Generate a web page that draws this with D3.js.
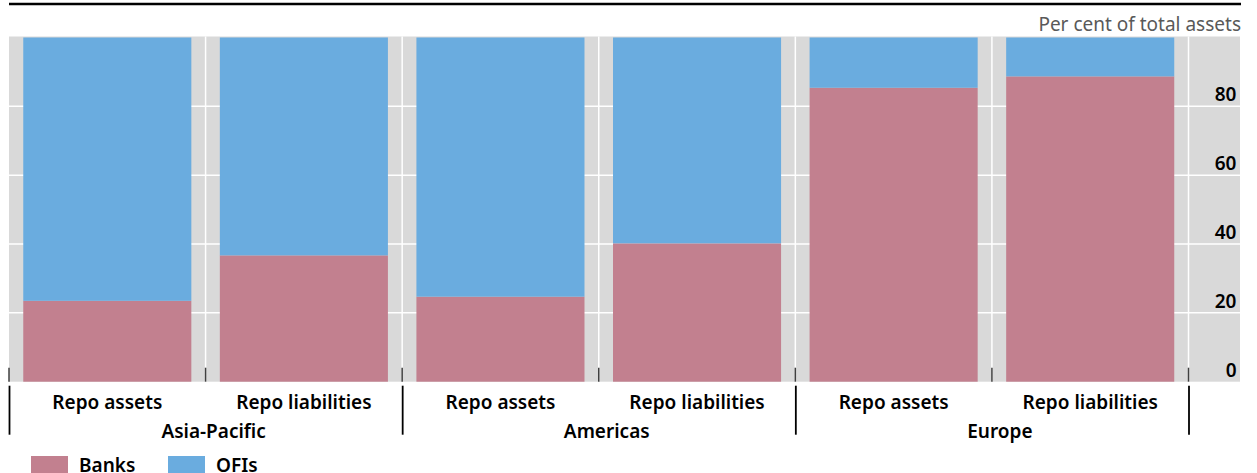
<!DOCTYPE html>
<html>
<head>
<meta charset="utf-8">
<script src="https://cdn.jsdelivr.net/npm/d3@7"></script>
<style>
  html, body { margin: 0; padding: 0; background: #fff; }
  svg { display: block; font-family: 'Noto Sans', sans-serif; }
</style>
</head>
<body>
<div id="chart"></div>
<script>
// data (per cent of total assets)
var regions = ['Asia-Pacific', 'Americas', 'Europe'];
var sides = ['Repo assets', 'Repo liabilities'];
var banks = [23.5, 36.7, 24.7, 40.2, 85.4, 88.7];
var ofis = [76.5, 63.3, 75.3, 59.8, 14.6, 11.3];
var yTicks = [0, 20, 40, 60, 80];
var seriesNames = ['Banks', 'OFIs'];
var colours = ['#c2808f', '#6aacdf'];

var width = 1257, height = 473;
var plotLeft = 9, plotRight = 1240, plotTop = 37.5, plotBottom = 381.7;
var barsRight = 1188.5;
var labelFont = { size: '19px', weight: 600 };

var rows = [];
regions.forEach(function(r, i) {
    sides.forEach(function(s, j) {
        var k = i * sides.length + j;
        rows.push({ id: r + '|' + s, region: r, side: s, Banks: banks[k], OFIs: ofis[k] });
    });
});

var svg = d3.select('#chart').append('svg')
    .attr('width', width)
    .attr('height', height);

var x = d3.scaleBand()
    .domain(rows.map(function(d) { return d.id; }))
    .range([plotLeft, barsRight])
    .paddingInner(0.145)
    .paddingOuter(0.0725);

var y = d3.scaleLinear().domain([0, 100]).range([plotBottom, plotTop]);

var gap = (x.step() - x.bandwidth()) / 2;
function slotStart(id) { return x(id) - gap; }

function labelStyle(sel) {
    sel.style('font-family', "'Noto Sans', sans-serif")
        .style('font-size', labelFont.size)
        .style('font-weight', labelFont.weight)
        .style('fill', '#000');
}

// top rule
svg.append('line')
    .attr('x1', plotLeft).attr('x2', plotRight + 1)
    .attr('y1', 4).attr('y2', 4)
    .style('stroke', '#000').style('stroke-width', 2.4);

svg.append('text')
    .attr('x', plotRight + 1).attr('y', 31)
    .attr('text-anchor', 'end')
    .style('font-size', '19px')
    .style('fill', '#595959')
    .text('Per cent of total assets');

// plot background
svg.append('rect')
    .attr('x', plotLeft).attr('y', plotTop - 1)
    .attr('width', plotRight - plotLeft).attr('height', plotBottom - plotTop + 1)
    .style('fill', '#d9d9d9');

// horizontal grid
svg.append('g')
    .selectAll('line')
    .data(yTicks.filter(function(t) { return t > 0; }))
  .enter().append('line')
    .attr('x1', plotLeft).attr('x2', plotRight)
    .attr('y1', function(d) { return y(d); })
    .attr('y2', function(d) { return y(d); })
    .style('stroke', '#fff').style('stroke-width', 1.5);

// vertical grid between slots
var bounds = rows.map(function(d) { return slotStart(d.id); }).slice(1);
bounds.push(barsRight);
svg.append('g')
    .selectAll('line')
    .data(bounds)
  .enter().append('line')
    .attr('x1', function(d) { return d; }).attr('x2', function(d) { return d; })
    .attr('y1', plotTop - 1).attr('y2', plotBottom)
    .style('stroke', '#fff').style('stroke-width', 1.5);

// stacked bars
var stack = d3.stack().keys(seriesNames)(rows);
svg.append('g')
    .selectAll('g')
    .data(stack)
  .enter().append('g')
    .style('fill', function(d, i) { return colours[i]; })
  .selectAll('rect')
    .data(function(d) { return d; })
  .enter().append('rect')
    .attr('x', function(d) { return x(d.data.id); })
    .attr('width', x.bandwidth())
    .attr('y', function(d) { return y(d[1]); })
    .attr('height', function(d) { return y(d[0]) - y(d[1]); });

// y axis labels on the right
var yAxis = d3.axisLeft(y).tickValues(yTicks).tickSize(0).tickPadding(0);
var ya = svg.append('g')
    .attr('transform', 'translate(' + (plotRight - 3.5) + ',0)')
    .call(yAxis);
ya.select('.domain').remove();
ya.selectAll('text')
    .attr('dy', '-0.3em')
    .call(labelStyle);

// small ticks at slot boundaries
var tickPos = [plotLeft].concat(bounds);
svg.append('g')
    .selectAll('line')
    .data(tickPos)
  .enter().append('line')
    .attr('x1', function(d) { return d; }).attr('x2', function(d) { return d; })
    .attr('y1', plotBottom - 14).attr('y2', plotBottom)
    .style('stroke', '#404040').style('stroke-width', 1.5);

// category labels
var xAxis = d3.axisBottom(x).tickSize(0).tickPadding(0)
    .tickFormat(function(id) { return id.split('|')[1]; });
var xa = svg.append('g')
    .attr('transform', 'translate(0,' + plotBottom + ')')
    .call(xAxis);
xa.select('.domain').remove();
xa.selectAll('text')
    .attr('y', 27)
    .attr('dy', 0)
    .call(labelStyle);

// region separators and labels
var groupEdges = regions.map(function(r, i) { return slotStart(rows[i * sides.length].id); });
groupEdges.push(barsRight);
svg.append('g')
    .selectAll('line')
    .data(groupEdges)
  .enter().append('line')
    .attr('x1', function(d) { return d + 0.5; }).attr('x2', function(d) { return d + 0.5; })
    .attr('y1', plotBottom + 4).attr('y2', plotBottom + 53)
    .style('stroke', '#000').style('stroke-width', 1.8);

svg.append('g')
    .selectAll('text')
    .data(regions)
  .enter().append('text')
    .attr('x', function(d, i) { return (groupEdges[i] + groupEdges[i + 1]) / 2 + 8; })
    .attr('y', 438)
    .attr('text-anchor', 'middle')
    .call(labelStyle)
    .text(function(d) { return d; });

// legend
var legend = svg.append('g')
    .selectAll('g')
    .data(seriesNames)
  .enter().append('g')
    .attr('transform', function(d, i) { return 'translate(' + (31 + i * 137) + ',456)'; });
legend.append('rect')
    .attr('width', 37).attr('height', 18)
    .style('fill', function(d, i) { return colours[i]; });
legend.append('text')
    .attr('x', 48).attr('y', 16)
    .call(labelStyle)
    .text(function(d) { return d; });
</script>
</body>
</html>
